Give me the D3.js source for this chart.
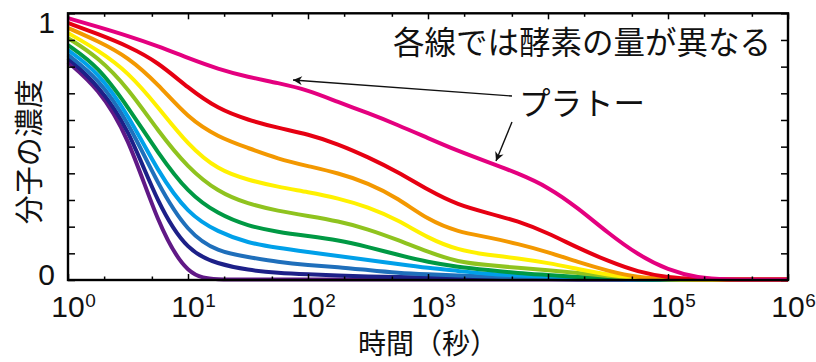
<!DOCTYPE html>
<html><head><meta charset="utf-8">
<script src="https://cdn.jsdelivr.net/npm/d3@7"></script>
<style>body{margin:0;background:#fff}svg{display:block}</style>
</head><body>
<svg id="c" width="816" height="362"></svg>
<script>
// ---- data ----
const logTime = [0,0.25,0.5,0.75,1,1.25,1.5,1.75,2,2.25,2.5,2.75,3,3.25,3.5,3.75,4,4.25,4.5,4.75,5,5.25,5.5,5.75,6];
const enzyme10 = [0.982,0.949,0.915,0.877,0.832,0.791,0.761,0.739,0.712,0.667,0.626,0.581,0.532,0.484,0.442,0.400,0.349,0.270,0.176,0.094,0.037,0.0075,0.002,0.002,0.002];
const enzyme9  = [0.964,0.922,0.877,0.817,0.720,0.641,0.600,0.570,0.547,0.510,0.461,0.405,0.337,0.281,0.251,0.221,0.176,0.120,0.071,0.030,0.009,0.004,0.002,0.002,0.002];
const enzyme8  = [0.945,0.896,0.836,0.735,0.607,0.536,0.495,0.454,0.427,0.401,0.364,0.307,0.225,0.180,0.161,0.135,0.105,0.067,0.034,0.009,0.004,0.002,0.002,0.002,0.002];
const enzyme7  = [0.926,0.862,0.780,0.649,0.506,0.412,0.375,0.349,0.330,0.307,0.274,0.225,0.157,0.112,0.094,0.082,0.064,0.041,0.019,0.006,0.002,0.002,0.002,0.002,0.002];
const enzyme6  = [0.907,0.836,0.720,0.559,0.420,0.330,0.285,0.259,0.240,0.221,0.191,0.150,0.105,0.067,0.056,0.045,0.037,0.026,0.015,0.006,0.002,0.002,0.002,0.002,0.002];
const enzyme5  = [0.881,0.802,0.649,0.476,0.326,0.247,0.202,0.180,0.165,0.150,0.124,0.094,0.067,0.049,0.037,0.026,0.019,0.011,0.006,0.002,0.002,0.002,0.002,0.002,0.002];
const enzyme4  = [0.862,0.780,0.622,0.405,0.247,0.180,0.139,0.120,0.105,0.090,0.075,0.060,0.045,0.034,0.022,0.017,0.013,0.009,0.006,0.002,0.002,0.002,0.002,0.002,0.002];
const enzyme3  = [0.844,0.757,0.596,0.356,0.176,0.105,0.086,0.067,0.056,0.049,0.037,0.026,0.021,0.017,0.013,0.009,0.0075,0.006,0.002,0.002,0.002,0.002,0.002,0.002,0.002];
const enzyme2  = [0.832,0.731,0.574,0.281,0.105,0.060,0.037,0.026,0.021,0.017,0.013,0.011,0.009,0.0075,0.0075,0.006,0.004,0.002,0.002,0.002,0.002,0.002,0.002,0.002,0.002];
const enzyme1  = [0.817,0.720,0.544,0.206,0.009,0.002,0.002,0.002,0.002,0.002,0.002,0.002,0.002,0.002,0.002,0.002,0.002,0.002,0.002,0.002,0.002,0.002,0.002,0.002,0.002];
const seriesList = [enzyme1,enzyme2,enzyme3,enzyme4,enzyme5,enzyme6,enzyme7,enzyme8,enzyme9,enzyme10];
const seriesColors = ["#601986","#1d2088","#1f6fbb","#00a0e9","#009944","#8fc31f","#fff100","#f39800","#e60012","#e4007f"];
const xMajorExp = [0,1,2,3,4,5,6];
const xMinorMult = [2,5];
const yTickVals = [0,0.1,0.2,0.3,0.4,0.5,0.6,0.7,0.8,0.9,1];
const yLabelVals = [0,1];
const noteText = "各線では酵素の量が異なる";
const plateauText = "プラトー";
const xTitle = "時間（秒）";
const yTitle = "分子の濃度";

// ---- layout ----
const L=68, R=788, T=13.3, B=280;
const JP = "'Noto Sans CJK JP','Noto Sans CJK SC',sans-serif";
const NUM = "'Liberation Sans',Arial,Helvetica,sans-serif";
const svg = d3.select("#c");
const x = d3.scaleLog().domain([1,1e6]).range([L,R]);
const y = d3.scaleLinear().domain([0,1]).range([B,T]);

// curves
const line = d3.line().x((d,i)=>x(Math.pow(10,logTime[i]))).y(d=>y(d)).curve(d3.curveBasis);
svg.append("g").selectAll("path").data(seriesList).join("path")
  .attr("d", d=>line(d)).attr("fill","none")
  .attr("stroke",(d,i)=>seriesColors[i]).attr("stroke-width",4).attr("stroke-linejoin","round");

// ticks
const majors = xMajorExp.map(e=>Math.pow(10,e));
const minors = [];
xMajorExp.slice(0,-1).forEach(e=>xMinorMult.forEach(m=>minors.push(m*Math.pow(10,e))));
function styleAxis(g){ g.select(".domain").remove(); g.selectAll("line").attr("stroke","#000").attr("stroke-width",1.5); g.selectAll("text").remove(); }
svg.append("g").attr("transform",`translate(0,${B})`).call(d3.axisBottom(x).tickValues(majors).tickSize(-6).tickFormat("")).call(styleAxis);
svg.append("g").attr("transform",`translate(0,${B})`).call(d3.axisBottom(x).tickValues(minors).tickSize(-3.5).tickFormat("")).call(styleAxis);
svg.append("g").attr("transform",`translate(0,${T})`).call(d3.axisTop(x).tickValues(majors).tickSize(-6).tickFormat("")).call(styleAxis);
svg.append("g").attr("transform",`translate(0,${T})`).call(d3.axisTop(x).tickValues(minors).tickSize(-3.5).tickFormat("")).call(styleAxis);
svg.append("g").attr("transform",`translate(${L},0)`).call(d3.axisLeft(y).tickValues(yTickVals).tickSize(-7).tickFormat("")).call(styleAxis);
svg.append("g").attr("transform",`translate(${R},0)`).call(d3.axisRight(y).tickValues(yTickVals).tickSize(-7).tickFormat("")).call(styleAxis);

// frame
svg.append("rect").attr("x",L).attr("y",T).attr("width",R-L).attr("height",B-T)
  .attr("fill","none").attr("stroke","#000").attr("stroke-width",2.4);

// x tick labels
xMajorExp.forEach(e=>{
  const cx = x(Math.pow(10,e));
  const t = svg.append("text").attr("x",cx).attr("y",317).attr("text-anchor","middle")
    .attr("font-family",NUM).attr("font-size",30).attr("fill","#111").text("10");
  const w = t.node().getComputedTextLength();
  svg.append("text").attr("x",cx+w/2+0.5).attr("y",307).attr("font-family",NUM)
    .attr("font-size",19).attr("fill","#111").text(String(e));
});
// y tick labels
yLabelVals.forEach(v=>{
  svg.append("text").attr("x",55).attr("y", v===1 ? 33 : 285).attr("text-anchor","end")
    .attr("font-family",NUM).attr("font-size",30).attr("fill","#111").text(String(v));
});

// titles
svg.append("text").attr("x",(L+R)/2).attr("y",354).attr("text-anchor","middle")
  .attr("font-family",JP).attr("font-size",28).attr("fill","#111").text(xTitle);
svg.append("text").attr("transform",`translate(40,${(T+B)/2+5}) rotate(-90)`).attr("text-anchor","middle")
  .attr("font-family",JP).attr("font-size",29).attr("fill","#111").text(yTitle);

// annotations
svg.append("text").attr("x",771).attr("y",54).attr("text-anchor","end")
  .attr("font-family",JP).attr("font-size",31.5).attr("fill","#111").text(noteText);
svg.append("text").attr("x",519).attr("y",115)
  .attr("font-family",JP).attr("font-size",31.5).attr("fill","#111").text(plateauText);

svg.append("defs").append("marker").attr("id","ah").attr("viewBox","0 0 10 10")
  .attr("refX",10).attr("refY",5).attr("markerWidth",13).attr("markerHeight",9)
  .attr("markerUnits","userSpaceOnUse").attr("orient","auto")
  .append("path").attr("d","M0,0 L10,5 L0,10 L3,5 Z").attr("fill","#111");
const arrows = [[512,96,293,80],[512,122,496,161]];
svg.append("g").selectAll("line").data(arrows).join("line")
  .attr("x1",d=>d[0]).attr("y1",d=>d[1]).attr("x2",d=>d[2]).attr("y2",d=>d[3])
  .attr("stroke","#111").attr("stroke-width",1.4).attr("marker-end","url(#ah)");
</script>
</body></html>
